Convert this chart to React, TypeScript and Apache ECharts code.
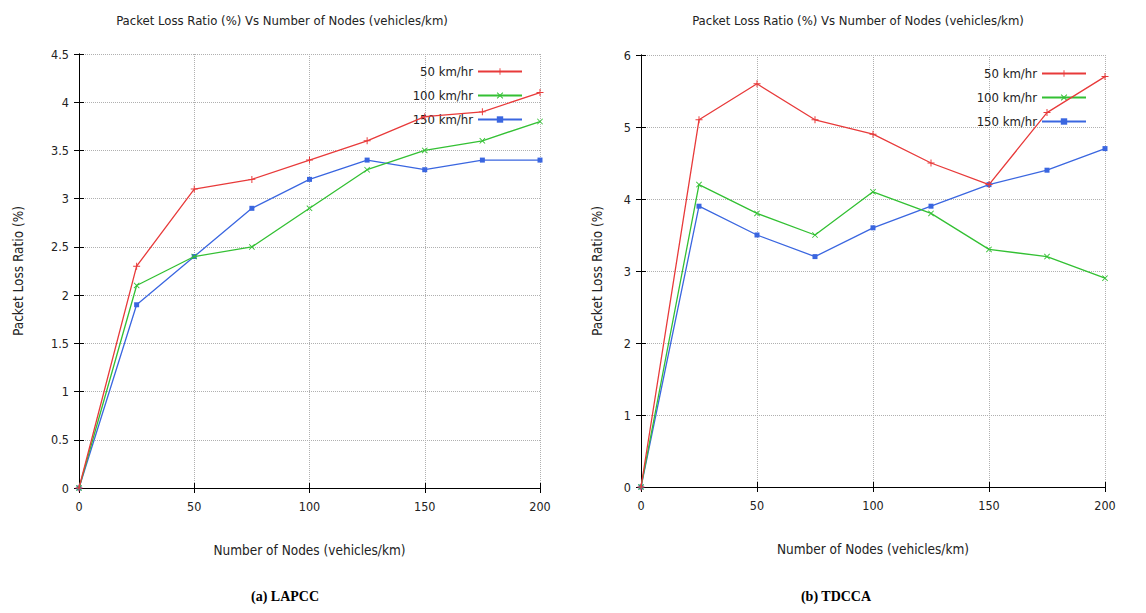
import React, { useEffect, useRef } from "react";
import * as echarts from "echarts";

const nodes = [0, 25, 50, 75, 100, 125, 150, 175, 200];
const seriesNames = ["50 km/hr", "100 km/hr", "150 km/hr"];

const lapcc50 = [0, 2.3, 3.1, 3.2, 3.4, 3.6, 3.85, 3.9, 4.1];
const lapcc100 = [0, 2.1, 2.4, 2.5, 2.9, 3.3, 3.5, 3.6, 3.8];
const lapcc150 = [0, 1.9, 2.4, 2.9, 3.2, 3.4, 3.3, 3.4, 3.4];

const tdcca50 = [0, 5.1, 5.6, 5.1, 4.9, 4.5, 4.2, 5.2, 5.7];
const tdcca100 = [0, 4.2, 3.8, 3.5, 4.1, 3.8, 3.3, 3.2, 2.9];
const tdcca150 = [0, 3.9, 3.5, 3.2, 3.6, 3.9, 4.2, 4.4, 4.7];

const chartTitle = "Packet Loss Ratio (%) Vs Number of Nodes (vehicles/km)";
const xName = "Number of Nodes (vehicles/km)";
const yName = "Packet Loss Ratio (%)";
const captions = ["(a) LAPCC", "(b) TDCCA"];

const COLORS = ["#e83a3a", "#33c033", "#3a66e0"];
const SYMBOLS = [
  "path://M4.3,0H5.7V4.3H10V5.7H5.7V10H4.3V5.7H0V4.3H4.3Z",
  "path://M1,0L5,4L9,0L10,1L6,5L10,9L9,10L5,6L1,10L0,9L4,5L0,1Z",
  "rect",
];
const SYMSIZE = [7, 6, 5];
const FONT = "'Liberation Sans Narrow', 'DejaVu Sans Condensed', 'Liberation Sans', sans-serif";

export default function App() {
  const ref = useRef<HTMLDivElement>(null);
  useEffect(() => {
    document.body.style.margin = "0";
    if (!ref.current) return;
    const chart = echarts.init(ref.current, null, { renderer: "svg" });

    const grids = [
      { left: 79, top: 54, width: 461, height: 434 },
      { left: 641, top: 55, width: 464, height: 432 },
    ];
    const yMax = [4.5, 6];
    const yInt = [0.5, 1];

    const xAxes: any[] = [];
    const yAxes: any[] = [];
    grids.forEach((_, g) => {
      xAxes.push({
        type: "value",
        gridIndex: g,
        min: 0,
        max: 200,
        interval: 50,
        position: "bottom",
        name: xName,
        nameLocation: "middle",
        nameGap: 55,
        nameTextStyle: { fontFamily: FONT, fontSize: 13.5, color: "#222" },
        axisLine: { show: true, lineStyle: { color: "#000", width: 1 } },
        axisTick: { show: true, inside: true, length: 5, lineStyle: { color: "#000" } },
        axisLabel: { fontFamily: FONT, fontSize: 12.5, color: "#222", margin: 12 },
        splitLine: { show: true, lineStyle: { type: "dotted", color: "#b0b0b0" } },
      });
      xAxes.push({
        type: "value",
        gridIndex: g,
        min: 0,
        max: 200,
        interval: 50,
        position: "top",
        axisLine: { show: true, lineStyle: { color: "#000", width: 1 } },
        axisTick: { show: true, inside: true, length: 5, lineStyle: { color: "#000" } },
        axisLabel: { show: false },
        splitLine: { show: false },
      });
      yAxes.push({
        type: "value",
        gridIndex: g,
        min: 0,
        max: yMax[g],
        interval: yInt[g],
        position: "left",
        name: yName,
        nameLocation: "middle",
        nameGap: g === 0 ? 54 : 37,
        nameTextStyle: { fontFamily: FONT, fontSize: 13.5, color: "#222" },
        axisLine: { show: true, lineStyle: { color: "#000", width: 1 } },
        axisTick: { show: true, inside: true, length: 5, lineStyle: { color: "#000" } },
        axisLabel: { fontFamily: FONT, fontSize: 12.5, color: "#222", margin: 10 },
        splitLine: { show: true, lineStyle: { type: "dotted", color: "#b0b0b0" } },
      });
      yAxes.push({
        type: "value",
        gridIndex: g,
        min: 0,
        max: yMax[g],
        interval: yInt[g],
        position: "right",
        axisLine: { show: true, lineStyle: { color: "#000", width: 1 } },
        axisTick: { show: true, inside: true, length: 5, lineStyle: { color: "#000" } },
        axisLabel: { show: false },
        splitLine: { show: false },
      });
    });

    const data = [
      [lapcc50, lapcc100, lapcc150],
      [tdcca50, tdcca100, tdcca150],
    ];
    const series: any[] = [];
    data.forEach((set, g) => {
      set.forEach((vals, i) => {
        series.push({
          type: "line",
          name: seriesNames[i],
          xAxisIndex: g * 2,
          yAxisIndex: g * 2,
          data: nodes.map((n, k) => [n, vals[k]]),
          symbol: SYMBOLS[i],
          symbolSize: SYMSIZE[i],
          showSymbol: true,
          lineStyle: { color: COLORS[i], width: 1.3 },
          itemStyle: { color: COLORS[i] },
          z: 3 - i + 2,
        });
      });
    });

    const legendBase = {
      orient: "vertical",
      align: "right",
      itemWidth: 44,
      itemHeight: 8,
      itemGap: 11,
      textStyle: { fontFamily: FONT, fontSize: 13, color: "#222" },
      data: seriesNames,
      backgroundColor: "transparent",
    };

    chart.setOption({
      animation: false,
      backgroundColor: "#fff",
      grid: grids,
      xAxis: xAxes,
      yAxis: yAxes,
      series,
      legend: [
        { ...legendBase, right: 1146 - 528, top: 60 },
        { ...legendBase, right: 1146 - 1092, top: 62 },
      ],
      graphic: [
        {
          type: "text",
          x: 282,
          y: 20,
          style: { text: chartTitle, font: `13px ${FONT}`, fill: "#222", textAlign: "center", textVerticalAlign: "middle" },
        },
        {
          type: "text",
          x: 858,
          y: 20,
          style: { text: chartTitle, font: `13px ${FONT}`, fill: "#222", textAlign: "center", textVerticalAlign: "middle" },
        },
        {
          type: "text",
          x: 285,
          y: 596,
          style: { text: captions[0], font: `bold 14px 'Liberation Serif', 'DejaVu Serif', serif`, fill: "#000", textAlign: "center", textVerticalAlign: "middle" },
        },
        {
          type: "text",
          x: 836,
          y: 596,
          style: { text: captions[1], font: `bold 14px 'Liberation Serif', 'DejaVu Serif', serif`, fill: "#000", textAlign: "center", textVerticalAlign: "middle" },
        },
      ],
    });
    return () => chart.dispose();
  }, []);
  return <div ref={ref} style={{ width: 1146, height: 613 }} />;
}
